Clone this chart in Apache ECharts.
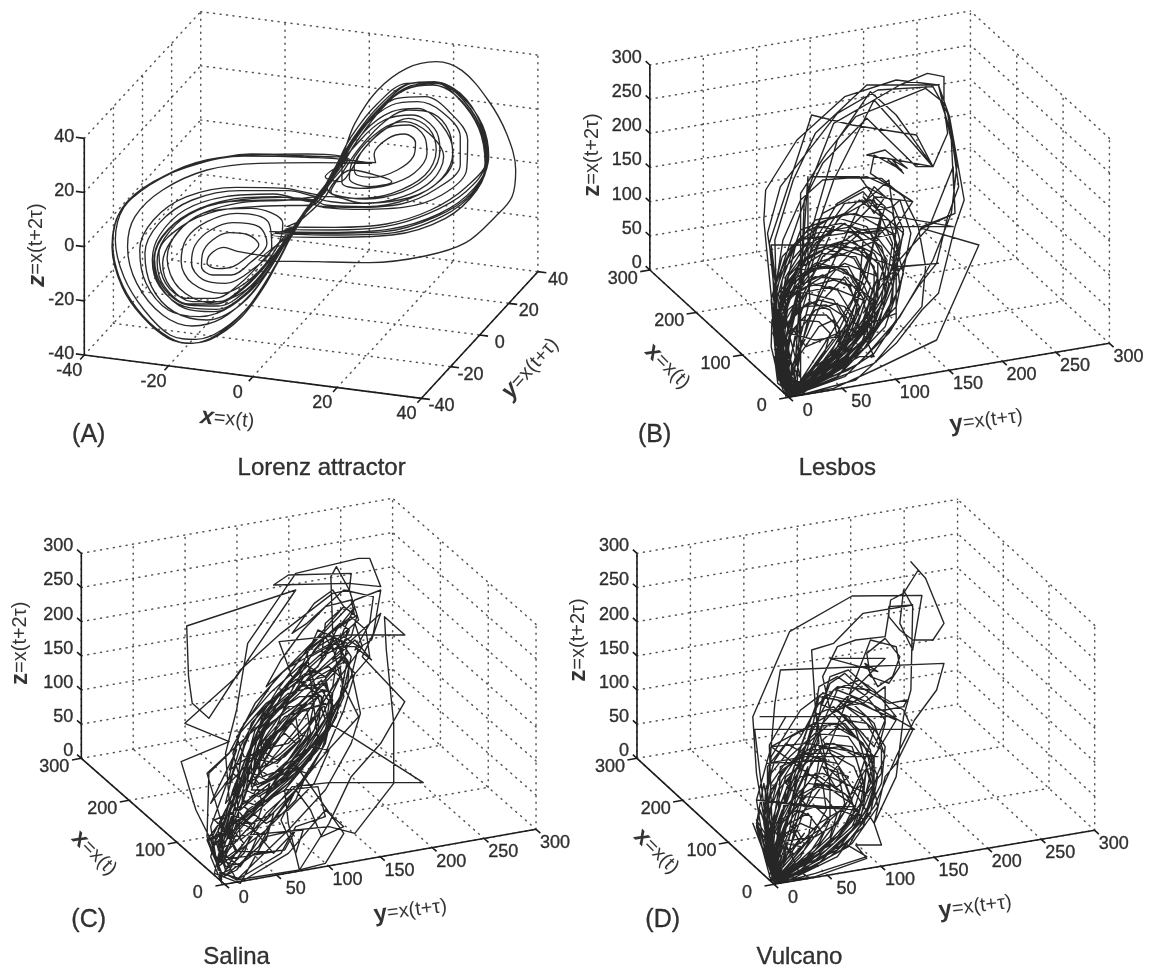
<!DOCTYPE html>
<html><head><meta charset="utf-8">
<style>html,body{margin:0;padding:0;background:#fff}#c{width:1153px;height:968px}</style>
<script src="https://cdn.jsdelivr.net/npm/echarts@6/dist/echarts.min.js"></script></head>
<body><div id="c"></div>
<script>
// Tick values
const lorenzTicks=[-40,-20,0,20,40];
const volcanoTicks=[0,50,100,150,200,250,300];
const volcanoXTicks=[0,100,200,300];
const panelLetters=['(A)','(B)','(C)','(D)'];
const panelNames=['Lorenz attractor','Lesbos','Salina','Vulcano'];

// Trajectories, in each panel's view plane
const lorenzTrace=[
[722,768],[642,754],[605,742],[570,762],[560,790],[590,806],[630,800],[668,772],[700,735],
[672,705],[620,698],[575,720],[548,760],[545,800],[575,825],[625,825],[675,790],[722,730],
[700,680],[630,668],[570,690],[528,735],[518,790],[548,838],[610,850],[675,815],[735,740],
[725,665],[640,640],[560,665],[505,715],[490,785],[520,850],[600,880],[680,835],[750,740],
[765,670],[680,625],[575,632],[485,690],[452,775],[485,865],[570,908],[665,870],[745,765],[785,695],
[835,620],[880,560],[930,490],[1000,487],[1016,488],[1012,462],[1050,415],[1095,402],[1124,428],[1118,470],[1075,510],[1010,532],[965,525],[958,500],[990,440],[1045,385],[1105,375],[1148,410],[1155,460],[1120,520],[1050,555],[975,565],[925,548],[925,505],[975,420],[1040,360],[1115,345],[1175,385],[1190,450],[1165,520],[1090,575],[990,597],[905,585],[885,565],[925,495],[985,395],[1060,335],[1130,325],[1195,375],[1225,455],[1195,535],[1110,595],[990,620],[880,615],[850,600],
[770,592],[660,598],[540,625],[455,690],[418,775],[440,860],[510,915],[590,918],[670,868],[745,775],[800,680],
[770,688],[900,690],[1040,680],[1160,640],[1260,575],[1312,490],[1295,385],[1240,295],[1180,250],[1110,258],[1030,325],[960,420],[920,495],[872,570],[845,605],
[740,582],[610,590],[500,630],[432,705],[412,780],[432,860],[500,920],[585,928],[670,875],[745,770],[810,665],
[775,680],[905,682],[1045,672],[1165,630],[1262,560],[1318,475],[1298,375],[1240,285],[1175,245],[1105,252],[1025,318],[955,415],[915,490],[868,578],[850,612],
[960,622],[1085,612],[1175,570],[1245,495],[1245,410],[1195,335],[1130,305],[1060,315],[985,380],[930,470],[890,550],[862,590],[780,572],[650,572],[520,600],[430,670],[392,760],[410,860],[470,935],[560,960],[650,915],[725,815],[790,690],
[760,695],[880,700],[1040,695],[1180,650],[1275,580],[1320,480],[1300,370],[1245,280],[1175,248],[1100,250],[1020,312],[950,410],[910,495],[880,560],[850,600],
[745,600],[620,605],[510,645],[445,715],[425,785],[445,860],[510,912],[580,912],[660,865],[735,775],[790,685],
[735,705],[880,712],[1060,705],[1205,655],[1290,570],[1318,480],[1295,372],[1235,280],[1175,250],[1105,260],[1030,330],[965,425],[925,495],[885,555],[860,590],
[960,610],[1080,600],[1170,560],[1225,480],[1215,395],[1170,340],[1105,330],[1040,365],[975,440],[925,520],[895,575],[965,595],[1060,580],[1150,525],[1180,450],[1160,385],[1105,355],[1045,385],[985,445],[950,510],[920,545],[880,530],[945,478],
[830,468],[680,462],[540,490],[415,545],[330,625],[305,730],[322,830],[370,925],[440,1000],[505,1030],[570,1018],[650,955],[720,850],[775,735],[835,625],
[890,540],[930,480],[1005,490],[860,488],[700,490],[560,510],[440,570],[365,650],[345,740],[370,850],[440,945],[520,978],[600,955],[680,880],[745,780],[820,640],
[880,555],[925,483],[830,472],[660,468],[520,495],[405,555],[325,635],[303,740],[330,860],[385,950],[455,1015],[520,1030],[590,1002],[665,930],[735,815],[790,700],
[700,780],[860,785],[1000,788],[1150,768],[1260,728],[1340,650],[1385,590],[1395,510],[1370,400],[1320,300],[1250,212],[1180,185],[1100,205],[1020,272],[960,370],[925,470],[880,570],[845,615],
[720,618],[590,632],[490,680],[430,760],[448,850],[505,895],[580,895],[650,850],[720,770],[795,680],
[850,625],[880,590],[905,545],[950,510],[1030,530],[1060,545],[1000,560],[945,535],[960,470],[1030,390],[1095,365],
[1160,400],[1200,470],[1170,540],[1090,590],[985,610],[895,590],[870,590],[780,600],[640,610],[530,650],[465,720],[440,790],[460,860],[520,905],[590,905],[660,860],[730,780],[785,700],
[730,695],[890,697],[1050,688],[1190,640],[1282,565],[1322,470],[1305,375],[1250,290],[1185,247],[1115,250],[1035,315],[965,405],[920,485],[875,565],[848,608],
[955,628],[1090,622],[1195,585],[1262,510],[1265,420],[1215,335],[1150,290],[1075,295],[1000,360],[940,450],[898,530],[868,585],
[770,565],[640,562],[505,590],[415,660],[378,750],[395,850],[455,930],[540,950],[630,915],[710,825],[778,705],
[745,700],[890,705],[1050,700],[1195,650],[1285,572],[1315,478],[1290,370],[1232,285],[1170,255],[1098,268],[1018,335],[950,430],[905,505],[870,575],[850,605],
[750,590],[625,598],[512,640],[438,710],[416,785],[436,862],[500,925],[578,935],[665,885],[742,785],[800,675],[850,610],[900,540],[940,480],[830,462],[670,465],[530,488],[410,550],[335,622],[312,720],[335,830],[390,930],[460,1005],[530,1018],[600,990],[680,910],[750,790],[815,650],[860,590]
];
const lesbosTrace=[
[570,1190],[530,1000],[500,660],[505,570],[590,420],[720,290],[860,240],[975,255],[1005,350],[1045,600],[1020,680],[975,880],[930,930],[860,1030],[750,1140],[600,1185],
[560,1170],[535,920],[530,720],[580,540],[640,400],[780,255],[975,255],[1010,420],[1020,640],[930,685],[1085,735],[970,1020],[800,1110],[690,1165],[575,1188],
[545,1050],[515,730],[630,345],[740,375],[915,405],[960,500],[860,480],[780,465],[830,450],[890,505],[850,480],[880,520],[838,480],[875,510],
[800,465],[790,520],[905,605],[800,590],[760,530],[630,530],[820,535],[880,590],[920,680],[940,800],[930,920],[800,1090],[590,1180],
[550,1120],[525,880],[630,540],[690,370],[870,255],[945,220],[990,230],[990,320],[1000,400],[960,500],[860,345],[790,275],[700,420],[640,650],[600,820],[560,1090],
[570,1185],[520,735],[680,735],[860,800],[840,940],[700,1130],[580,1188],
[535,1010],[550,840],[600,690],[720,640],[840,660],[870,760],[830,900],[740,1040],[610,1170],[565,1160],
[540,960],[560,830],[610,740],[690,690],[790,700],[830,790],[790,930],[700,1060],[590,1180],
[550,1050],[560,880],[610,780],[680,740],[770,745],[810,830],[770,960],[680,1090],[580,1185],
[540,1040],[545,900],[590,810],[660,760],[750,770],[790,860],[750,990],[660,1110],[575,1180],
[545,1080],[550,940],[590,840],[650,800],[730,800],[775,890],[730,1010],[640,1130],[570,1185],
[540,1100],[550,970],[580,870],[640,830],[720,840],[760,920],[710,1040],[625,1145],[568,1190],
[545,1120],[540,1000],[570,890],[630,850],[700,870],[745,950],[700,1060],[610,1155],[570,1185],
[550,1140],[545,1030],[565,930],[620,880],[690,900],[730,980],[680,1080],[600,1165],[570,1180],
[555,1150],[550,1050],[575,950],[625,905],[680,930],[710,1000],[665,1095],[590,1170],
[552,1080],[560,960],[600,880],[680,860],[770,900],[790,990],[730,1090],[620,1165],
[540,1040],[530,920],[560,800],[640,700],[740,680],[820,740],[850,860],[800,990],[690,1110],[585,1180],
[535,1000],[530,880],[570,760],[640,660],[750,640],[850,700],[880,820],[830,980],[700,1130],[575,1188],
[530,960],[525,830],[520,735],[700,735],[860,700],[840,540],[760,620],[700,760],[650,880],[600,1040],[565,1170],
[550,1000],[570,860],[640,790],[720,760],[810,720],[820,650],[760,600],[700,660],[640,800],[590,980],[560,1150],
[590,1090],[620,960],[680,830],[750,740],[800,800],[800,930],[740,1030],[650,1120],[580,1170],
[560,1100],[580,950],[630,850],[720,790],[810,830],[800,960],[720,1070],[610,1150],[568,1185],
[540,1060],[520,905],[615,1040],[700,1000],[790,970],[860,940],[860,800],[975,790],[880,800],[800,850],[770,970],[690,1090],[575,1180],
[530,1070],[550,1150],[640,1140],[760,1070],[800,1070],[770,1000],[640,1020],[570,1000],[550,900],[600,780],[660,640],[770,575],[820,640],[790,760],[740,900],[660,1040],[575,1185],
[535,1090],[560,1180],[680,1130],[780,1040],[830,880],[850,730],[800,600],[720,610],[650,720],[600,860],[560,1020],[565,1190],
[560,1060],[590,920],[660,770],[760,690],[870,680],[1015,680],[860,650],[800,720],[780,840],[720,980],[620,1130],[570,1190],
[550,1010],[570,870],[640,730],[720,670],[770,720],[760,860],[700,1000],[620,1120],[570,1180],
[575,1100],[620,1000],[660,900],[720,830],[760,880],[740,990],[670,1080],[600,1150],
[560,1120],[590,1000],[640,930],[700,910],[730,960],[700,1040],[640,1110],[580,1170],
[600,1060],[650,980],[690,960],[700,1010],[660,1070],[610,1130],[570,1180],
[545,1100],[540,950],[590,720],[720,700],[790,620],[800,590],[830,620],[780,800],[730,980],[610,1160]
];
const lesbosTrace2=[
[568,1190],[532,1060],[525,930],[550,800],[610,700],[690,650],[780,680],[835,780],[820,900],[750,1020],[640,1130],
[570,1185],[535,1080],[540,960],[570,850],[620,770],[700,730],[780,760],[815,850],[790,960],[710,1070],[600,1165],
[548,1110],[532,990],[548,880],[600,790],[670,745],[745,775],[795,870],[770,985],[680,1085],[585,1175],
[540,1140],[530,1030],[540,930],[585,835],[650,790],[725,810],[775,905],[745,1010],[650,1105],[572,1180],
[545,1150],[535,1060],[545,950],[590,860],[660,825],[735,860],[760,950],[720,1050],[625,1135],[568,1188],
[535,1120],[528,1000],[560,870],[625,810],[700,800],[770,850],[800,930],[765,1030],[665,1120],[580,1185],
[538,1070],[535,950],[565,830],[635,750],[725,720],[800,760],[840,850],[815,965],[725,1085],[595,1175],
[530,1040],[520,900],[550,770],[620,690],[710,670],[800,700],[855,780],[850,900],[780,1040],[640,1150],[570,1188],
[536,990],[530,850],[575,745],[650,680],[745,700],[820,770],[830,880],[790,1000],[680,1115],[578,1182],
[550,1160],[548,1060],[560,975],[610,920],[670,915],[720,950],[735,1020],[690,1095],[615,1160],
[560,1175],[555,1080],[570,1000],[615,945],[670,945],[705,985],[705,1045],[660,1115],[595,1170],
[545,1130],[565,1020],[600,960],[650,965],[680,1000],[665,1060],[615,1125],[572,1178],
[538,1150],[530,1080],[545,1000],[590,930],[650,900],[720,920],[760,990],[730,1070],[640,1150],
[555,1180],[535,1110],[520,1040],[522,960],[560,900],[620,860],[690,840],[750,860],[800,900],[790,1000],[720,1100],[610,1175],
[540,880],[590,810],[680,800],[740,830],[790,910],[780,1010],[690,1100],[575,1185],
[525,1000],[545,910],[610,830],[700,760],[760,700],[820,690],[860,760],[870,860],[830,950],[770,1050],[660,1140],[575,1190],
[540,1010],[570,900],[620,830],[650,730],[710,650],[790,600],[850,640],[870,720],[840,830],[790,950],[680,1090],[590,1170],
[560,1010],[590,880],[650,800],[740,720],[810,790],[810,900],[740,1020],[640,1100],[590,1160],
[538,940],[570,820],[640,720],[700,610],[780,560],[845,600],[880,690],[860,810],[800,960],[700,1080],[580,1180],
[620,530],[620,770],[625,900],[590,1050],[560,1190],[540,1050],[528,890],[552,720],[600,600],[660,540],[780,530],[840,560],[905,605],[860,680],[850,810],[880,700],
[800,620],[770,590],[800,640],[830,590],[800,560],[780,600],[810,630],[850,620],
[870,600],[900,700],[880,810],[860,920],[790,1000],[760,1050],[600,1185],
[600,580],[670,460],[750,350],[840,310],[940,265],[980,300],[1010,400],[1030,560],[1000,650],[970,790],[920,860],[840,1000],[720,1130],[580,1185],
[510,700],[545,560],[630,440],[700,340],[810,270],[960,260],[1000,340],[1025,500],[1010,640],[960,780],[870,950],[760,1090],[590,1180],
[610,600],[660,490],[780,355],[915,500],[960,500],[905,430],[800,300],[690,540],[640,700],[600,860],[570,1000],
[560,1180],[640,1150],[730,1110],[800,1060],[860,960],[860,830],[930,680],[1020,640],[1015,500],[950,680],[860,790],[770,940]
];
const salinaTrace=[
[600,1170],[575,1060],[530,960],[490,815],[620,755],[500,700],[640,560],[800,300],[505,408],[510,560],[520,640],[565,685],[650,540],[760,430],[900,310],[945,300],[950,250],[780,255],[740,285],[945,280],[1030,290],[1000,205],[970,205],[800,250],[670,460],[640,660],[610,790],[620,930],[740,1090],[800,1020],[890,1010],
[960,1030],[1065,880],[1065,700],[1045,480],[1040,380],[1095,435],[930,435],[755,455],[790,560],[870,620],[890,700],[950,740],[1145,878],[890,878],[790,890],[700,1010],[620,1140],
[600,1150],[560,1040],[565,850],[620,790],[690,640],[770,540],[910,450],[970,390],[945,300],[910,230],[895,260],[900,430],[950,540],[975,670],[950,760],[880,900],[780,1020],[640,1170],
[605,1100],[590,1020],[640,880],[660,760],[750,600],[830,480],[900,400],[960,330],[1030,300],[1010,430],[980,500],[1095,635],[1030,760],[950,860],[890,1000],[810,1140],[640,1170],
[590,1140],[570,1010],[620,860],[650,720],[750,560],[870,450],[950,380],[990,420],[1000,500],[930,590],[970,680],[880,790],[770,940],[650,1130],
[600,1090],[640,960],[680,820],[730,690],[820,580],[920,500],[960,550],[930,660],[880,790],[810,880],[720,970],[640,1090],
[615,1030],[650,890],[700,770],[780,640],[860,560],[940,510],[920,620],[860,740],[800,830],[720,920],[650,1000],[590,1080],
[640,980],[680,860],[720,770],[790,670],[870,600],[900,650],[880,740],[820,830],[740,900],[670,960],[620,1040],
[660,920],[700,820],[750,730],[820,660],[890,640],[880,730],[840,810],[760,870],[690,920],[650,960],
[680,860],[720,760],[790,680],[860,620],[880,690],[830,780],[770,850],[700,890],[670,870],
[670,790],[730,700],[810,640],[870,570],[900,630],[880,720],[810,810],[730,870],[680,890],
[690,800],[760,700],[830,620],[880,600],[850,720],[790,810],[720,870],[685,850],
[700,770],[770,680],[830,660],[840,730],[790,800],[730,860],[690,830],[720,750],[790,700],[820,740],[770,800],[720,830],[710,790],[770,730],[800,760],[750,820],
[660,800],[640,740],[720,640],[800,580],[880,560],[920,510],[940,420],[960,400],[980,470],[920,560],[870,680],[830,760],[740,880],[700,950],[640,1030],
[600,1120],[570,1080],[620,1010],[690,950],[800,820],[840,750],[940,590],[945,520],[890,430],[850,480],[780,620],[700,720],[660,840],[620,960],[590,1060],
[610,1130],[650,1120],[700,1070],[740,990],[830,860],[880,760],[900,660],[880,560],[820,520],[760,620],[710,730],[700,850],[640,930],[575,1050],
[560,1050],[610,1020],[700,950],[750,860],[810,760],[860,660],[920,560],[900,470],[840,530],[770,650],[730,760],[670,860],[610,940],
[630,850],[680,720],[750,620],[860,530],[910,420],[960,350],[930,420],[900,510],[960,450],[1005,510],[960,470],[920,470],[870,500],[880,400],[930,350],[965,380],[950,440],[900,480],[880,440],[920,400],[945,420],[920,480],[930,520],[940,460],
[860,420],[820,520],[730,610],[660,700],[630,790],[650,870],[610,1010],[590,1100],[580,1150],[650,1180],[720,1040],[800,1020],[770,1080],[690,1090],[640,1130],[600,1110],[580,1040],[630,1020],[660,1060],[620,1110],[600,1075],[640,1050],[600,1020],[570,1080],[600,1150],
[660,1170],[780,1090],[880,960],[930,1010],[870,1040],[840,960],[800,900],[760,990],[800,1090],[820,1020]
];
const salinaTrace2=[
[620,1040],[640,920],[670,800],[690,720],[745,650],[810,590],[880,580],[905,660],[870,780],[800,900],[720,990],[650,1050],
[640,900],[650,810],[680,700],[730,640],[820,560],[890,530],[930,570],[910,680],[860,780],[780,880],[700,950],[655,930],
[660,880],[680,780],[710,680],[780,610],[850,590],[900,610],[890,700],[840,790],[770,870],[700,920],[665,900],
[675,840],[695,750],[740,670],[810,620],[870,620],[860,720],[810,800],[750,860],[700,880],[680,850],
[680,820],[710,730],[780,650],[850,640],[830,740],[760,840],[710,860],[690,810],[730,740],[800,680],[810,750],[750,810],[720,790],
[700,720],[760,600],[840,540],[860,620],[800,720],[740,800],[690,870],[710,940],[770,900],[830,820],[890,720],[930,620],[920,530],
[620,880],[650,770],[700,670],[780,580],[860,500],[930,440],[970,470],[950,560],[900,680],[860,770],[790,860],[700,950],[640,1020],[600,1100],
[600,1020],[630,900],[670,790],[730,680],[800,610],[880,500],[905,440],[860,470],[800,560],[730,650],[680,770],[650,900],[620,1000],
[660,1000],[700,960],[780,880],[840,800],[890,700],[930,600],[950,500],[920,450],[840,500],[770,590],[710,690],[670,790],[640,880],
[590,1130],[560,1050],[600,990],[660,940],[730,880],[700,980],[650,1040],[610,1090],[640,1000],[690,1000],[660,1090],[610,1140],[590,1070],[620,1000],[585,1040],[570,1100],
[600,1180],[590,1120],[640,1080],[610,1020],[580,990],[620,970],[680,1000],[740,970],[720,1050],[650,1120],[605,1160],[640,1140],[680,1080],[700,1030],[640,990],[600,1040],[590,1110],
[660,1100],[745,1085],[640,1085],[600,1160],[570,1050],[610,960],[660,880],[630,850],[570,940],[640,780],[620,840],[700,780],
[780,760],[850,680],[900,590],[910,520],[940,490],[870,580],[800,680],[740,770],[700,840],[760,790],[830,720],[880,640],[820,660],[760,730],[720,800],[680,900],[720,900],[790,840],[860,750],
[830,480],[880,440],[960,380],[950,330],[880,350],[820,420],[760,510],[720,590],[780,530],[860,440],[930,350],[900,300],[850,340],[790,430],[830,400],[930,300],[1010,320],[1000,400],[960,480],[1005,450],[1030,370],
[560,850],[600,1000],[590,1130],[720,1020],[800,930],[830,850],[780,830],[700,890],[660,950],[720,1000],[780,960],[850,880],[890,780],[840,770],[790,810],
[930,1030],[880,1120],[810,1140],[780,1000],[770,900],[860,890],[880,980],[800,1010],[760,1090],[640,1170]
];
const vulcanoTrace=[
[530,1180],[480,850],[470,680],[570,425],[740,318],[930,316],[905,480],[870,400],[880,300],[905,350],[900,600],[880,680],[860,860],[800,1000],[820,1065],[750,1065],[780,1105],[640,1160],
[530,1175],[510,900],[530,640],[545,540],[990,520],[970,600],[910,690],[860,800],[800,950],[700,1100],[560,1175],
[520,1130],[475,718],[910,718],[850,680],[790,640],[700,600],[660,700],[620,850],[570,1040],[535,1170],
[525,1100],[515,765],[560,680],[490,680],[860,680],[800,600],[760,570],[690,600],[650,680],[600,800],[540,1000],
[525,1170],[560,900],[640,650],[630,480],[690,460],[770,370],[905,345],[840,350],[840,380],[870,420],[905,450],[960,450],[990,400],[940,265],[920,240],[900,215],[920,240],[880,310],[845,330],[840,370],
[830,440],[750,450],[700,470],[660,560],[680,660],[730,720],[800,800],[800,920],[750,1010],[650,1120],[535,1175],
[790,450],[860,470],[870,530],[840,580],[790,560],[780,490],[830,445],[870,500],[850,560],[810,590],[775,520],[810,545],[680,505],[830,505],
[700,650],[770,640],[830,590],[830,700],[810,780],[770,850],[730,950],[640,1080],[530,1180],
[510,1050],[510,830],[560,760],[610,790],[670,810],[510,820],[610,800],[560,880],[620,950],[480,930],[760,960],[780,830],[750,720],[690,650],[630,680],[590,800],[545,990],[530,1170],
[500,1060],[520,880],[570,800],[640,730],[730,740],[780,820],[770,930],[700,1040],[590,1150],[530,1175],
[520,1040],[540,900],[600,820],[670,760],[740,770],[770,870],[740,980],[650,1090],[535,1170],
[515,1020],[560,860],[640,800],[700,840],[720,940],[680,1050],[600,1130],[530,1180],
[510,990],[540,860],[620,760],[680,700],[760,750],[790,880],[740,1010],[620,1130],[535,1180],
[500,960],[520,850],[600,740],[650,640],[730,680],[790,780],[800,880],[750,1010],[650,1110],[530,1180],
[520,1100],[550,1000],[610,920],[660,880],[670,960],[630,1040],[570,1120],[530,1170],
[515,1060],[550,960],[620,880],[680,890],[680,980],[610,1080],[540,1160],
[525,1130],[560,1030],[600,1000],[640,1020],[600,1100],[540,1165],
[520,1110],[540,1050],[590,1020],[610,1060],[570,1120],[535,1170],
[505,1030],[530,1000],[590,960],[630,980],[620,1050],[570,1120],[530,1180],
[480,990],[520,1060],[640,1040],[700,1000],[740,930],[700,820],[650,810],[640,880],[700,890],[730,860],[660,830],[700,900],[640,850],
[600,910],[560,1000],[530,1110],[650,1020],[720,950],[760,860],[800,720],[760,680],[700,630],[650,620],[620,770],[520,1060],
[530,1180],[600,1130],[700,1080],[780,960],[810,850],[830,800],[800,700],[740,640],[660,620],[640,740],[590,880],[535,1130],
[500,1000],[520,800],[600,660],[660,610],[760,640],[860,690],[800,800],[760,1000],[640,1130],[530,1180],
[505,1100],[480,930],[520,770],[620,850],[750,950],[610,950],[760,960],[700,1040],[590,1130],
[540,1020],[610,860],[660,770],[720,800],[650,900],[580,1010],[530,1150],
[480,1000],[500,1090],[530,1180],[560,1090],[530,1020],[520,1150],[510,1070],[545,1140],[600,1070],[560,1060],[530,1170],[620,1140],[740,1060],[810,950],[780,780],[720,700],[630,710],[600,820],[525,1160]
];
const vulcanoTrace2=[
[528,1180],[515,1090],[500,1000],[505,900],[530,810],[575,740],[640,700],[700,700],[770,760],[810,860],[790,970],[710,1080],[600,1150],
[525,1175],[505,1060],[510,940],[550,840],[610,790],[680,790],[745,830],[775,910],[750,1000],[670,1080],[570,1150],
[522,1165],[520,1040],[550,930],[600,860],[660,850],[720,880],[745,950],[710,1030],[640,1090],[555,1160],
[528,1170],[530,1080],[565,980],[615,920],[670,925],[700,970],[680,1040],[620,1100],[550,1165],
[490,960],[480,1010],[520,1175],[535,1100],[540,1000],[575,930],[640,890],[720,910],[770,990],[730,1070],[630,1130],[540,1170],
[515,1120],[500,990],[520,900],[565,830],[630,780],[710,770],[770,800],[800,900],[770,1010],[680,1100],[560,1170],
[525,1150],[545,1040],[585,970],[640,950],[680,990],[650,1060],[590,1120],[530,1175],
[470,1000],[510,1110],[525,1000],[560,900],[620,810],[660,700],[710,640],[780,680],[830,770],[820,880],[770,990],[680,1090],[545,1175],
[508,1040],[520,950],[550,870],[590,800],[650,760],[640,650],[700,590],[790,600],[880,660],[905,720],[860,820],[830,860],[800,1000],
[660,750],[720,690],[780,700],[820,780],[820,850],[780,910],[720,880],[670,830],[650,770],[690,760],[750,800],[770,880],[730,920],[680,880],
[640,660],[650,590],[700,560],[780,620],[830,690],[800,770],[760,720],[700,660],[740,620],[800,660],[830,660],[880,650],[890,630],
[840,640],[760,590],[720,550],[680,580],[660,640],[680,560],[730,540],[790,600],[770,620],
[520,770],[620,760],[810,800],[610,800],[545,830],[540,960],[510,1060],[480,1000],
[500,880],[520,1010],[535,1120],[570,1020],[590,900],[620,830],[600,950],[570,1080],[530,1160],
[620,1100],[690,1060],[750,980],[710,960],[650,1000],[600,1060],[570,1000],[620,970],[660,1030],[600,1130],[540,1175],
[560,1150],[640,1110],[720,1060],[780,1100],[640,1150],[535,1180],[555,1120],[610,1030],[530,1140],[580,1090],[540,1060],[515,1160],
[530,1175],[625,1165],[580,1130],[540,1150],[590,1165],[530,1180]
];

// Panel geometry: where each panel's view plane sits and how its data axes project onto it
const frames=[
 {left:0,top:0,w:580,h:480,sx:2.705,range:[-40,40],
  O:[228,1065],ex:[912,130],ey:[315,-380],ez:[0,-650],xWall:'min',
  xt:lorenzTicks,yt:lorenzTicks,zt:lorenzTicks,
  xTick:[0,-0.035],yTick:[0.025,0],zTick:[-0.025,0],
  xOff:[-15,16],yOff:[20,8],zOff:[-10,-1],
  xTitle:[615,1258,-6],yTitle:[1435,1105,48],zTitle:[100,735,90],letter:[240,1305],name:[870,1405],bx:'x'},
 {left:580,top:0,w:573,h:480,sx:2.72,range:[0,300],
  O:[568,1192],ex:[-378,-382],ey:[872,-162],ez:[0,-615],xWall:'max',
  xt:volcanoXTicks,yt:volcanoTicks,zt:volcanoTicks,
  xTick:[0,-0.03],yTick:[-0.03,0],zTick:[0.03,0],
  xOff:[-27,9],yOff:[19,14],zOff:[-8,-7],
  xTitle:[238,1100,-45],yTitle:[1105,1262,7],zTitle:[35,465,90],letter:[203,1305],name:[700,1405]},
 {left:0,top:490,w:580,h:478,sx:2.705,range:[0,300],
  O:[608,1183],ex:[-388,-378],ey:[842,-165],ez:[0,-615],xWall:'max',
  xt:volcanoXTicks,yt:volcanoTicks,zt:volcanoTicks,
  xTick:[0,-0.03],yTick:[-0.03,0],zTick:[0.03,0],
  xOff:[-27,9],yOff:[19,14],zOff:[-8,-7],
  xTitle:[255,1090,-45],yTitle:[1110,1262,7],zTitle:[55,460,90],letter:[240,1290],name:[640,1403]},
 {left:580,top:490,w:573,h:478,sx:2.72,range:[0,300],
  O:[528,1183],ex:[-373,-378],ey:[872,-162],ez:[0,-615],xWall:'max',
  xt:volcanoXTicks,yt:volcanoTicks,zt:volcanoTicks,
  xTick:[0,-0.03],yTick:[-0.03,0],zTick:[0.03,0],
  xOff:[-27,9],yOff:[19,14],zOff:[-8,-7],
  xTitle:[208,1085,-45],yTitle:[1075,1250,7],zTitle:[-5,450,90],letter:[225,1290],name:[597,1403]}
];
const traces=[lorenzTrace,lesbosTrace.concat(lesbosTrace2),salinaTrace.concat(salinaTrace2),vulcanoTrace.concat(vulcanoTrace2)];
const traceStyle=[{w:1.35,c:'#2a2a2a',smooth:0.35},{w:1.4,c:'#262626',smooth:false},{w:1.4,c:'#262626',smooth:false},{w:1.4,c:'#262626',smooth:false}];
const FONT='"Liberation Sans",Arial,sans-serif';
const INK='#000000';

function project(f,x,y,z){
  const [a,b]=f.range,s=b-a,px=(x-a)/s,py=(y-a)/s,pz=(z-a)/s;
  return [f.O[0]+px*f.ex[0]+py*f.ey[0]+pz*f.ez[0], f.O[1]+px*f.ex[1]+py*f.ey[1]+pz*f.ez[1]];
}
const GAP=['-','-'];
const grids=[],xAxes=[],yAxes=[],series=[];
frames.forEach((f,i)=>{
  const [lo,hi]=f.range,span=hi-lo,xw=f.xWall==='min'?lo:hi,yw=hi;
  grids.push({left:f.left,top:f.top,width:f.w,height:f.h,containLabel:false});
  xAxes.push({gridIndex:i,type:'value',min:0,max:f.w*f.sx,show:false});
  yAxes.push({gridIndex:i,type:'value',min:0,max:f.h*3,inverse:true,show:false});
  const dots=[];
  const seg=(p,q)=>{dots.push(p,q,GAP);};
  // walls and floor
  f.zt.forEach(z=>{seg(project(f,xw,lo,z),project(f,xw,hi,z));seg(project(f,lo,yw,z),project(f,hi,yw,z));});
  f.yt.forEach(y=>{seg(project(f,xw,y,lo),project(f,xw,y,hi));seg(project(f,lo,y,lo),project(f,hi,y,lo));});
  f.xt.forEach(x=>{seg(project(f,x,yw,lo),project(f,x,yw,hi));seg(project(f,x,lo,lo),project(f,x,hi,lo));});
  series.push({type:'line',xAxisIndex:i,yAxisIndex:i,data:dots,symbol:'none',silent:true,animation:false,clip:false,z:1,
    lineStyle:{color:'#555555',width:1.5,type:[1,5.5],cap:'round'}});
  // axes and ticks
  const sol=[];
  const zx=xw, zy=lo;
  const yx=f.xWall==='min'?hi:lo;
  sol.push(project(f,lo,lo,lo),project(f,hi,lo,lo),GAP);
  sol.push(project(f,yx,lo,lo),project(f,yx,hi,lo),GAP);
  sol.push(project(f,zx,zy,lo),project(f,zx,zy,hi),GAP);
  f.xt.forEach(x=>{sol.push(project(f,x,lo,lo),project(f,x,lo+f.xTick[1]*span,lo),GAP);});
  f.yt.forEach(y=>{sol.push(project(f,yx,y,lo),project(f,yx+f.yTick[0]*span,y,lo),GAP);});
  f.zt.forEach(z=>{sol.push(project(f,zx,zy,z),project(f,zx+f.zTick[0]*span,zy,z),GAP);});
  series.push({type:'line',xAxisIndex:i,yAxisIndex:i,data:sol,symbol:'none',silent:true,animation:false,clip:false,z:3,
    lineStyle:{color:'#1c1c1c',width:1.6}});
  // trajectory
  const st=traceStyle[i];
  series.push({type:'line',xAxisIndex:i,yAxisIndex:i,data:traces[i],symbol:'none',silent:true,animation:false,clip:false,z:2,
    smooth:st.smooth,lineStyle:{color:st.c,width:st.w,join:'round'}});
  // text
  const labels=[];
  const ink={color:INK,textBorderColor:INK,textBorderWidth:0.35};
  const tickLabel=(p,off,txt,align)=>labels.push({value:[p[0]+off[0]*f.sx,p[1]+off[1]*3],label:{formatter:String(txt),align:align||'center',fontSize:18,...ink}});
  f.xt.forEach(x=>tickLabel(project(f,x,lo,lo),f.xOff,x));
  f.yt.forEach(y=>tickLabel(project(f,yx,y,lo),f.yOff,y));
  f.zt.forEach(z=>tickLabel(project(f,zx,zy,z),f.zOff,z,'right'));
  const rich={b:{fontFamily:FONT,fontWeight:'bold',fontSize:24,fontStyle:i===0?'italic':'normal',color:INK},n:{fontFamily:FONT,fontSize:20,color:INK}};
  const title=(t,b,n)=>labels.push({value:[t[0],t[1]],label:{formatter:'{b|'+b+'}{n|'+n+'}',rotate:t[2],rich}});
  title(f.xTitle,'x','=x(t)');
  title(f.yTitle,'y','=x(t+τ)');
  title(f.zTitle,'z','=x(t+2τ)');
  labels.push({value:f.letter,label:{formatter:panelLetters[i],fontSize:25,...ink}});
  labels.push({value:f.name,label:{formatter:panelNames[i],fontSize:24,...ink}});
  series.push({type:'scatter',xAxisIndex:i,yAxisIndex:i,data:labels,symbolSize:0,silent:true,animation:false,clip:false,z:5,
    label:{show:true,position:'inside',color:INK,fontFamily:FONT,verticalAlign:'middle'}});
});
const chart=echarts.init(document.getElementById('c'),null,{renderer:'canvas'});
chart.setOption({animation:false,backgroundColor:'#fff',grid:grids,xAxis:xAxes,yAxis:yAxes,series});
</script></body></html>
